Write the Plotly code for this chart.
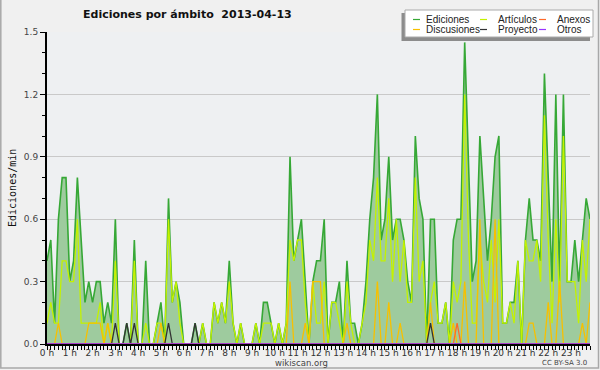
import plotly.graph_objects as go

DAY = "2013-04-13"
times = [f"{DAY} {h:02d}:{m:02d}" for h in range(24) for m in range(0, 60, 10)]

ediciones = [
    0.4, 0.5, 0.1, 0.6, 0.8, 0.8,
    0.3, 0.4, 0.8, 0.5, 0.2, 0.3,
    0.2, 0.3, 0.3, 0.1, 0.2, 0.1,
    0.6, 0.0, 0.0, 0.1, 0.0, 0.5,
    0.0, 0.0, 0.4, 0.0, 0.0, 0.1,
    0.2, 0.0, 0.7, 0.2, 0.3, 0.2,
    0.0, 0.0, 0.0, 0.1, 0.0, 0.1,
    0.0, 0.0, 0.2, 0.1, 0.2, 0.1,
    0.4, 0.1, 0.0, 0.1, 0.0, 0.0,
    0.0, 0.1, 0.0, 0.2, 0.2, 0.1,
    0.0, 0.1, 0.0, 0.1, 0.9, 0.4,
    0.5, 0.6, 0.3, 0.0, 0.3, 0.4,
    0.4, 0.6, 0.0, 0.2, 0.2, 0.3,
    0.0, 0.4, 0.1, 0.1, 0.0, 0.1,
    0.3, 0.6, 0.8, 1.2, 0.5, 0.6,
    0.9, 0.5, 0.6, 0.6, 0.5, 0.3,
    0.2, 1.0, 0.7, 0.6, 0.0, 0.6,
    0.6, 0.1, 0.1, 0.2, 0.0, 0.5,
    0.6, 0.6, 1.45, 0.9, 0.3, 0.4,
    1.0, 0.7, 0.4, 0.6, 0.9, 1.0,
    0.1, 0.1, 0.2, 0.2, 0.4, 0.0,
    0.5, 0.7, 0.5, 0.5, 0.4, 1.3,
    0.8, 0.3, 1.2, 0.3, 1.2, 0.3,
    0.3, 0.5, 0.3, 0.5, 0.7, 0.6,
]

articulos = [
    0.1, 0.2, 0.1, 0.1, 0.4, 0.4,
    0.3, 0.3, 0.6, 0.1, 0.1, 0.1,
    0.1, 0.1, 0.2, 0.0, 0.1, 0.0,
    0.4, 0.0, 0.0, 0.0, 0.0, 0.4,
    0.0, 0.0, 0.1, 0.0, 0.0, 0.1,
    0.1, 0.0, 0.6, 0.2, 0.3, 0.1,
    0.0, 0.0, 0.0, 0.0, 0.0, 0.1,
    0.0, 0.0, 0.2, 0.1, 0.2, 0.1,
    0.3, 0.1, 0.0, 0.1, 0.0, 0.0,
    0.0, 0.1, 0.0, 0.1, 0.1, 0.1,
    0.0, 0.1, 0.0, 0.1, 0.5, 0.4,
    0.5, 0.5, 0.2, 0.0, 0.3, 0.1,
    0.1, 0.3, 0.0, 0.2, 0.2, 0.1,
    0.0, 0.3, 0.1, 0.0, 0.0, 0.1,
    0.2, 0.5, 0.4, 0.8, 0.4, 0.4,
    0.7, 0.3, 0.6, 0.3, 0.5, 0.2,
    0.2, 0.8, 0.3, 0.4, 0.0, 0.2,
    0.3, 0.1, 0.1, 0.2, 0.0, 0.3,
    0.2, 0.3, 1.2, 0.5, 0.1, 0.1,
    0.5, 0.3, 0.2, 0.5, 0.2, 0.6,
    0.1, 0.1, 0.2, 0.1, 0.4, 0.0,
    0.5, 0.4, 0.4, 0.5, 0.3, 1.1,
    0.5, 0.1, 0.6, 0.2, 1.0, 0.3,
    0.3, 0.3, 0.1, 0.5, 0.3, 0.6,
]

discusiones = [
    0, 0, 0, 0.1, 0, 0,
    0, 0, 0, 0, 0, 0.1,
    0.1, 0.1, 0.1, 0, 0.1, 0,
    0, 0, 0, 0, 0, 0,
    0, 0, 0, 0, 0, 0,
    0.1, 0, 0, 0, 0, 0,
    0, 0, 0, 0, 0, 0,
    0, 0, 0, 0, 0, 0,
    0, 0, 0, 0, 0, 0,
    0, 0, 0, 0, 0, 0,
    0, 0, 0, 0, 0.3, 0,
    0, 0, 0.1, 0, 0.3, 0.3,
    0.3, 0, 0, 0, 0, 0,
    0, 0.1, 0, 0, 0, 0,
    0, 0, 0, 0.3, 0, 0,
    0.2, 0, 0, 0.1, 0, 0,
    0, 0, 0, 0, 0, 0.2,
    0, 0, 0, 0, 0, 0.1,
    0, 0, 0.3, 0, 0, 0,
    0.6, 0, 0, 0, 0.6, 0,
    0, 0, 0, 0, 0, 0,
    0, 0.1, 0.1, 0, 0, 0,
    0.2, 0, 0, 0.3, 0, 0,
    0, 0, 0, 0.1, 0, 0.2,
]

proyecto = [0.0] * 144
for i in (18, 21, 23, 32, 39, 101):
    proyecto[i] = 0.1

anexos = [0.0] * 144
anexos[108] = 0.1

otros = [0.0] * 144

series = [
    ("Ediciones", ediciones, "#36a836", 1.6),
    ("Artículos", articulos, "#c4f200", 1.3),
    ("Discusiones", discusiones, "#f7c000", 1.3),
    ("Proyecto", proyecto, "#333333", 1.3),
    ("Anexos", anexos, "#ff6a2a", 1.3),
    ("Otros", otros, "#9933ff", 1.3),
]

L, R, T, B = 47, 10, 32, 26
W, H = 600, 370
PW, PH = W - L - R, H - T - B


def px(x):
    return (x - L) / PW


def py(y):
    return (H - B - y) / PH


fig = go.Figure()
for name, vals, color, lw in series:
    kw = {}
    if name == "Ediciones":
        kw = dict(fill="tozeroy", fillcolor="#9ecb9e")
    fig.add_trace(go.Scatter(x=times, y=vals, mode="lines", name=name,
                             line=dict(color=color, width=lw),
                             showlegend=False, hoverinfo="skip", **kw))

fig.update_layout(
    width=W, height=H,
    margin=dict(l=L, r=R, t=T, b=B),
    paper_bgcolor="#f0f0f0",
    plot_bgcolor="#eef0f2",
    font=dict(family="DejaVu Sans", size=9, color="#333"),
)
fig.update_xaxes(
    type="date",
    range=[times[0], times[-1]],
    dtick=3600000, tick0=f"{DAY} 00:00",
    tickformat="%-H h",
    ticks="outside", ticklen=4, tickcolor="black", tickwidth=1,
    minor=dict(dtick=600000, ticks="outside", ticklen=4, tickcolor="black", tickwidth=1),
    showgrid=False, showline=True, linecolor="black", linewidth=2,
    tickfont=dict(size=9, color="#333"),
    ticklabelstandoff=-5,
    zeroline=False,
)
fig.update_yaxes(
    range=[0, 1.5], dtick=0.3, tick0=0, tickformat=".1f",
    ticks="outside", ticklen=5, tickcolor="black", tickwidth=1,
    minor=dict(dtick=0.1, ticks="outside", ticklen=3, tickcolor="black"),
    showgrid=True, gridcolor="#c9c9c9", gridwidth=1,
    showline=True, linecolor="black", linewidth=2,
    tickfont=dict(size=9, color="#444"),
    zeroline=False,
)

shapes = []
ann = []
# outer frame
shapes.append(dict(type="rect", xref="paper", yref="paper",
                   x0=px(0.8), x1=px(598.5), y0=py(368), y1=py(-2),
                   line=dict(color="#a8a8a8", width=1.5), fillcolor="rgba(0,0,0,0)", layer="below"))
# legend shadow and box
shapes.append(dict(type="rect", xref="paper", yref="paper",
                   x0=px(401.5), x1=px(590), y0=py(41), y1=py(13),
                   line=dict(width=0), fillcolor="#8c8c8c"))
shapes.append(dict(type="rect", xref="paper", yref="paper",
                   x0=px(405), x1=px(593), y0=py(37), y1=py(10),
                   line=dict(color="#aaaaaa", width=1), fillcolor="white"))
cols = [(413, 424), (480, 496), (539, 555)]
rows = [19.5, 29.5]
order = [["Ediciones", "Artículos", "Anexos"], ["Discusiones", "Proyecto", "Otros"]]
colors = {n: c for n, _, c, _ in series}
for r, row in enumerate(order):
    for c, name in enumerate(row):
        lx, tx = cols[c]
        yy = rows[r]
        shapes.append(dict(type="line", xref="paper", yref="paper",
                           x0=px(lx), x1=px(lx + 7), y0=py(yy), y1=py(yy),
                           line=dict(color=colors[name], width=1.2)))
        ann.append(dict(text=name, xref="paper", yref="paper", x=px(tx), y=py(yy),
                        xanchor="left", yanchor="middle", showarrow=False,
                        font=dict(family="Liberation Sans", size=10, color="#222")))

ann.append(dict(text="<b>Ediciones por ámbito  2013-04-13</b>", xref="paper", yref="paper",
                x=px(187), y=py(15), xanchor="center", yanchor="middle", showarrow=False,
                font=dict(family="DejaVu Sans", size=11, color="#111")))
ann.append(dict(text="Ediciones/min", xref="paper", yref="paper",
                x=px(12), y=py(188), xanchor="center", yanchor="middle", showarrow=False,
                textangle=-90, font=dict(family="DejaVu Sans Mono", size=10, color="#111")))
ann.append(dict(text="wikiscan.org", xref="paper", yref="paper",
                x=px(301), y=py(362.5), xanchor="center", yanchor="middle", showarrow=False,
                font=dict(family="DejaVu Sans", size=8.5, color="#444")))
ann.append(dict(text="CC BY-SA 3.0", xref="paper", yref="paper",
                x=px(564), y=py(362.5), xanchor="center", yanchor="middle", showarrow=False,
                font=dict(family="DejaVu Sans", size=7, color="#444")))

fig.update_layout(shapes=shapes, annotations=ann)
fig.write_html("out.html", config={"displayModeBar": False},
               post_script="document.body.style.margin='0';document.body.style.background='#f0f0f0';")
